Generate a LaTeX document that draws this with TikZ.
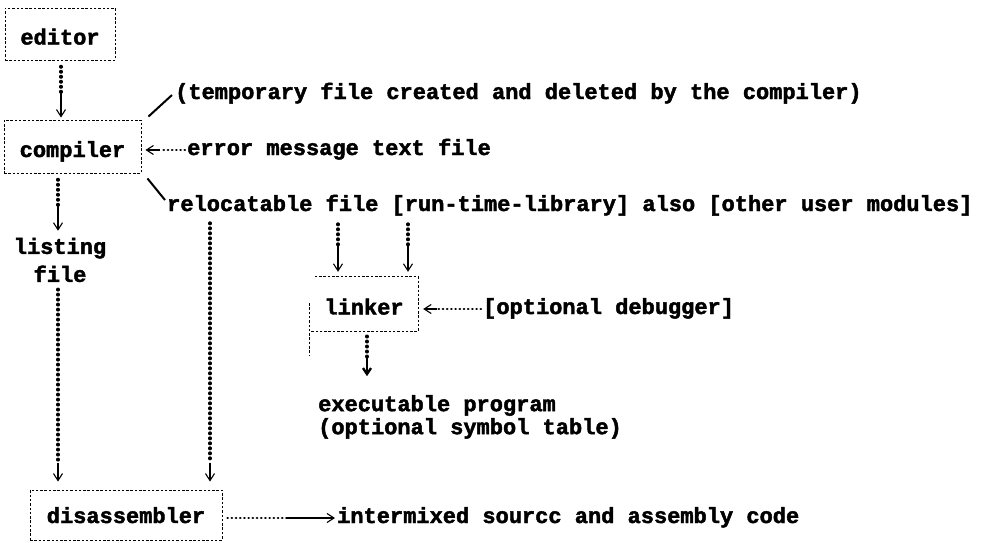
\documentclass[tikz,border=0pt]{standalone}
\usepackage{fontspec}
\setmainfont{Liberation Mono}[BoldFeatures={FakeBold=2}]
\usetikzlibrary{calc,arrows.meta}

\tikzset{
  txt/.style={font=\bfseries\fontsize{22}{28}\selectfont, inner sep=0pt},
  lbl/.style={txt, text height=14pt, text depth=4pt},
  boxtxt/.style={txt, text height=22pt, text depth=1pt},
  box/.style={boxtxt, draw, line width=0.9pt, dash pattern=on 2.5pt off 1.8pt},
  boxline/.style={line width=0.9pt, dash pattern=on 2.5pt off 1.8pt},
  dotline/.style={line width=3.4pt, line cap=round, dash pattern=on 0.6pt off 4.4pt},
  hdots/.style={line width=2.4pt, line cap=round, dash pattern=on 0.4pt off 3.8pt},
  shaft/.style={line width=1.1pt, -{Straight Barb[length=7pt,width=9pt]}},
  boldshaft/.style={line width=2.4pt, -{Straight Barb[length=6pt,width=8pt]}},
  slash/.style={line width=2pt},
}

\begin{document}
\begin{tikzpicture}[x=1pt,y=-1pt]
\fill[white] (0,0) rectangle (988,542);

% program boxes
\node[box, minimum width=110pt, minimum height=52pt] (editor) at (60,34) {editor};
\node[box, minimum width=137pt, minimum height=53pt] (compiler) at (72.5,146.5) {compiler};
\node[boxtxt, minimum width=108pt, minimum height=54pt] (linker) at (364,304) {linker};
\node[box, text height=17pt, minimum width=192pt, minimum height=50pt] (disasm) at (126,515) {disassembler};

% linker outline: open at the upper left, left edge runs past the bottom
\draw[boxline] ([xshift=5pt]linker.north west) -- (linker.north east)
  -- (linker.south east) -- (linker.south west);
\draw[boxline] ($(linker.west)+(0,-1)$) -- ($(linker.south west)+(0,24)$);

% files and notes
\node[lbl, anchor=west] (temp) at (175,94) {(temporary file created and deleted by the compiler)};
\node[lbl, anchor=west] (err) at (187,150) {error message text file};
\node[lbl, anchor=west] (reloc) at (167,206) {relocatable file [run-time-library] also [other user modules]};
\node[txt, align=center] (listing) at (60,260) {listing\\file};
\node[lbl, anchor=west] (dbg) at (483,309) {[optional debugger]};
\node[txt, anchor=north west, align=left, font=\bfseries\fontsize{22}{23}\selectfont] (exe) at (318,395) {executable program\\(optional symbol table)};
\node[lbl, anchor=west] (out) at (337,518) {intermixed sourcc and assembly code};

% editor -> compiler
\draw[dotline] ($(editor.south)+(1,6)$) -- ++(0,26) coordinate (a1);
\draw[shaft] (a1) -- ([yshift=2pt]a1 |- compiler.north);

% notes attached to the compiler
\draw[slash] ([shift={(7,-3)}]compiler.north east) -- ([shift={(-3,1)}]temp.west);
\draw[slash] ([shift={(6,5)}]compiler.south east) -- ([shift={(-2,-6)}]reloc.west);

% error message file -> compiler
\draw[hdots] ([xshift=-2pt]err.west) -- ++(-25,0) coordinate (a2);
\draw[shaft] (a2) -- ([xshift=4pt]compiler.east |- a2);

% compiler -> listing file
\draw[dotline] ($(compiler.south)+(-14.5,6)$) -- ++(0,26) coordinate (a3);
\draw[shaft] (a3) -- ([yshift=7pt]a3 |- listing.north);

% listing file -> disassembler
\draw[dotline] ($(listing.south)+(-2,7)$) coordinate (b4) -- ([yshift=27pt]b4 |- disasm.north) coordinate (a4);
\draw[shaft] (a4) -- ([yshift=8pt]a4 |- disasm.north);

% relocatable file -> disassembler
\draw[dotline] ($(reloc.west)+(43,17)$) coordinate (b5) -- ([yshift=27pt]b5 |- disasm.north) coordinate (a5);
\draw[shaft] (a5) -- ([yshift=8pt]a5 |- disasm.north);

% relocatable files -> linker
\draw[dotline] ($(reloc.west)+(171,18)$) -- ++(0,22) coordinate (a6);
\draw[shaft] (a6) -- ([yshift=5pt]a6 |- linker.north);
\draw[dotline] ($(reloc.west)+(241,18)$) -- ++(0,22) coordinate (a7);
\draw[shaft] (a7) -- ([yshift=5pt]a7 |- linker.north);

% optional debugger -> linker
\draw[hdots] ([xshift=-2pt]dbg.west) -- ++(-44,0) coordinate (a8);
\draw[shaft] (a8) -- ([xshift=5pt]linker.east |- a8);

% linker -> executable program
\draw[dotline] ($(linker.south)+(3,5)$) -- ++(0,22) coordinate (a9);
\draw[boldshaft] (a9) -- ++(0,18);

% disassembler -> listing output
\draw[hdots] ([xshift=5pt]disasm.east |- out.west) -- ++(60,0) coordinate (a10);
\draw[shaft] (a10) -- ([xshift=-2pt]out.west);
\end{tikzpicture}
\end{document}
